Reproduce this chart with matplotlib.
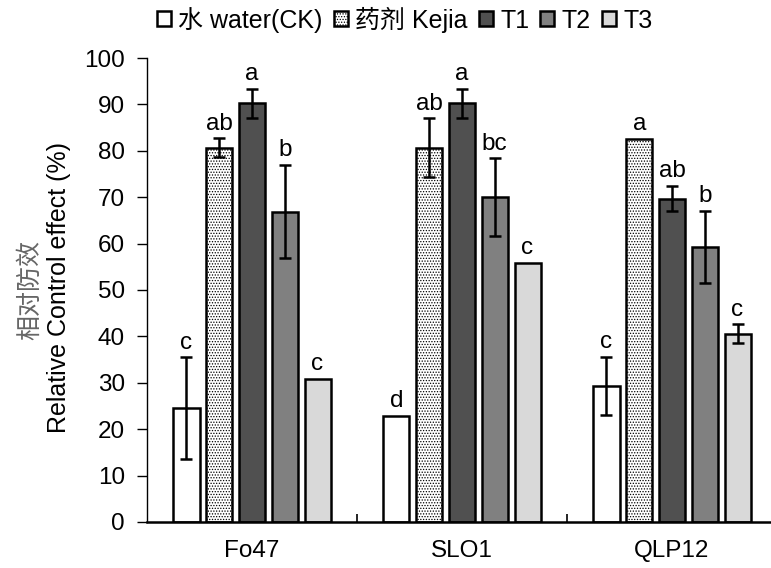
import numpy as np
import matplotlib.pyplot as plt
from matplotlib.ticker import FixedLocator

plt.rcParams['font.family'] = ['Liberation Sans', 'Noto Sans CJK SC', 'DejaVu Sans']
plt.rcParams['hatch.linewidth'] = 0.6

groups = ['Fo47', 'SLO1', 'QLP12']
series = ['水 water(CK)', '药剂 Kejia', 'T1', 'T2', 'T3']

# values per series across groups
water = [24.5, 22.8, 29.3]
kejia = [80.7, 80.7, 82.5]
t1 = [90.2, 90.2, 69.7]
t2 = [66.9, 70.0, 59.3]
t3 = [30.9, 55.9, 40.6]

water_err = [11.0, 0, 6.3]
kejia_err = [2.0, 6.3, 0]
t1_err = [3.2, 3.2, 2.7]
t2_err = [10.0, 8.4, 7.7]
t3_err = [0, 0, 2.0]

water_lbl = ['c', 'd', 'c']
kejia_lbl = ['ab', 'ab', 'a']
t1_lbl = ['a', 'a', 'ab']
t2_lbl = ['b', 'bc', 'b']
t3_lbl = ['c', 'c', 'c']

values = [water, kejia, t1, t2, t3]
errors = [water_err, kejia_err, t1_err, t2_err, t3_err]
letters = [water_lbl, kejia_lbl, t1_lbl, t2_lbl, t3_lbl]
colors = ['white', 'white', '#505050', '#808080', '#d9d9d9']
hatches = [None, '......', None, None, None]

fs = 17.5

fig = plt.figure(figsize=(7.71, 5.68), dpi=100)
ax = fig.add_axes([147 / 771, 1 - 522 / 568, 1 - 147 / 771, (522 - 58) / 568])

x = np.arange(len(groups))
step = 0.156
width = 0.124
handles = []
for i in range(len(series)):
    pos = x + (i - 2) * step
    err = [e if e > 0 else np.nan for e in errors[i]]
    b = ax.bar(pos, values[i], width, color=colors[i], edgecolor='black',
               linewidth=1.8, hatch=hatches[i], label=series[i], zorder=2)
    handles.append(b)
    ax.errorbar(pos, values[i], yerr=err, fmt='none', ecolor='black',
                elinewidth=1.8, capsize=4, capthick=1.8, zorder=3)
    for p, v, e, t in zip(pos, values[i], errors[i], letters[i]):
        ax.text(p, v + e + 0.8, t, ha='center', va='bottom', fontsize=fs)

ax.set_ylim(0, 100)
ax.set_xlim(-0.5, -0.5 + (771 - 147) / 210)
ax.set_yticks(np.arange(0, 101, 10))
ax.tick_params(axis='y', direction='out', length=7, width=1, labelsize=fs, pad=9)
ax.set_xticks(x)
ax.set_xticklabels(groups, fontsize=fs)
ax.tick_params(axis='x', which='major', length=0, pad=13)
ax.xaxis.set_minor_locator(FixedLocator([0.5, 1.5]))
ax.tick_params(axis='x', which='minor', direction='in', length=6, width=1.2)
for s in ['top', 'right']:
    ax.spines[s].set_visible(False)
ax.spines['left'].set_linewidth(1)
ax.spines['bottom'].set_linewidth(1.8)

fig.text(0.039, 0.49, '相对防效', rotation=90, ha='center', va='center',
         fontsize=18, color='#666666', family=['Noto Sans CJK SC'], fontweight='light')
fig.text(0.076, 0.493, 'Relative Control effect (%)', rotation=90,
         ha='center', va='center', fontsize=18)

fig.legend(handles=handles, loc='upper center', bbox_to_anchor=(0.525, 1.015),
           ncol=5, frameon=False, fontsize=18, handlelength=0.55, handleheight=0.55,
           handletextpad=0.3, columnspacing=0.45, borderaxespad=0.2)

fig.savefig('out.png', dpi=100)
